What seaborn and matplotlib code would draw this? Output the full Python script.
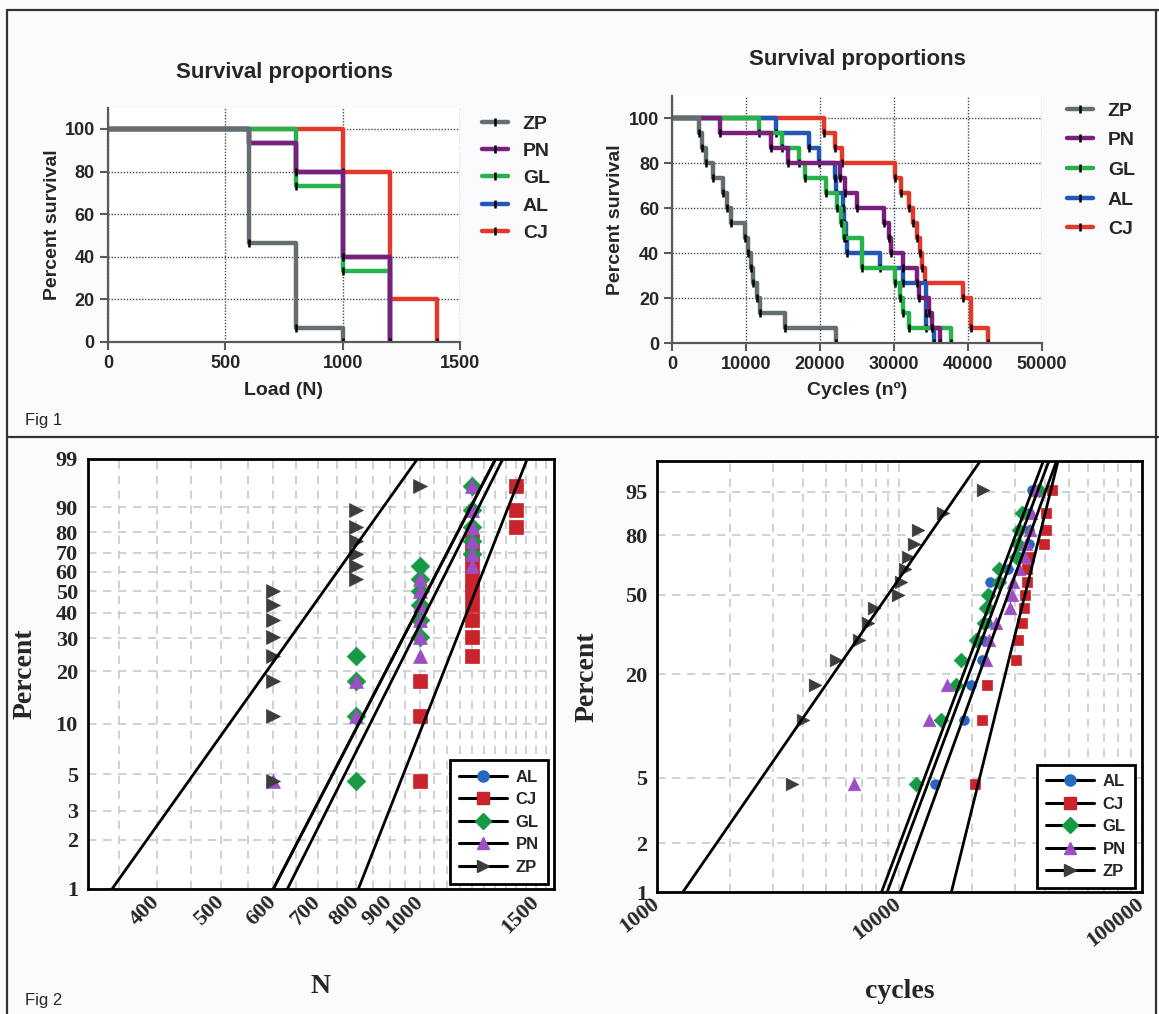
import numpy as np
import pandas as pd
import matplotlib
matplotlib.use("Agg")
import matplotlib.pyplot as plt
import seaborn as sns
from matplotlib.lines import Line2D
from matplotlib.ticker import FixedLocator, NullLocator, NullFormatter

# ---------------- data (n = 15 per group) ----------------
km_groups = ["ZP", "PN", "GL", "AL", "CJ"]          # legend order, Fig 1
wb_groups = ["AL", "CJ", "GL", "PN", "ZP"]          # legend order, Fig 2

# Fig 1 left: number of failures at each load step
load_levels = [600, 800, 1000, 1200, 1400]
fail_zp = [8, 6, 1, 0, 0]
fail_pn = [1, 2, 6, 6, 0]
fail_gl = [0, 4, 6, 5, 0]
fail_al = [1, 2, 6, 6, 0]
fail_cj = [0, 0, 3, 9, 3]

# Fig 1 right: cycles to failure
cycles_zp = [3600, 4000, 4500, 5500, 6800, 7400, 7900, 9900, 10200, 10600,
             10900, 11500, 11900, 15200, 22100]
cycles_pn = [6500, 13300, 15700, 22700, 23400, 25000, 28600, 29300, 29600,
             31300, 33100, 33400, 34700, 35100, 36300]
cycles_gl = [11700, 14900, 17100, 18000, 20800, 22300, 22800, 23200, 25700,
             25700, 30200, 30800, 31200, 32000, 37800]
cycles_al = [14000, 18500, 19800, 22000, 22100, 23100, 23300, 23500, 23700,
             28100, 31300, 34300, 34300, 34400, 35400]
cycles_cj = [20500, 22000, 23000, 30200, 31000, 32000, 32600, 33100, 33600,
             33800, 34200, 39400, 40500, 40500, 42800]

# Fig 2: Weibull fit lines (shape, scale), order as wb_groups
wb_load_shape = [7.9, 10.4, 8.15, 7.9, 5.75]
wb_load_scale = [1074, 1256, 1108, 1074, 761]
wb_cyc_shape = [3.99, 6.05, 3.99, 4.13, 2.17]
wb_cyc_scale = [28220, 35080, 26760, 30730, 10650]

load_ticks = [400, 500, 600, 700, 800, 900, 1000, 1500]
load_pct_ticks = [1, 2, 3, 5, 10, 20, 30, 40, 50, 60, 70, 80, 90, 99]
cyc_ticks = [1000, 10000, 100000]
cyc_pct_ticks = [1, 2, 5, 20, 50, 80, 95]

# ---------------- style ----------------
km_colors = {"ZP": "#646d70", "PN": "#7b1f7d", "GL": "#27b24a",
             "AL": "#2257b5", "CJ": "#e2392a"}
wb_colors = {"AL": "#2468c2", "CJ": "#c9232b", "GL": "#179a45",
             "PN": "#9d4ec4", "ZP": "#3d3d3d"}
wb_markers = {"AL": "o", "CJ": "s", "GL": "D", "PN": "^", "ZP": ">"}

sns.set_style("ticks")
plt.rcParams["font.family"] = ["Liberation Sans", "DejaVu Sans"]
SERIF = ["Liberation Serif", "DejaVu Serif"]

W, H = 1159, 1014
fig = plt.figure(figsize=(W / 100, H / 100), dpi=100, facecolor="#fbfbfd")


def rect(l, t, r, b):
    return [l / W, 1 - b / H, (r - l) / W, (b - t) / H]


def km_steps(events):
    t, d = np.unique(np.asarray(events, dtype=float), return_counts=True)
    surv = 100 * (1 - np.cumsum(d) / len(events))
    return pd.DataFrame({"t": np.r_[0, t], "s": np.r_[100, surv]})


def median_ranks(values):
    v = np.sort(np.asarray(values, dtype=float))
    i = np.arange(1, len(v) + 1)
    return v, 100 * (i - 0.3) / (len(v) + 0.4)


def weib_fwd(p):
    p = np.clip(np.asarray(p, dtype=float), 1e-9, 100 - 1e-9)
    return np.log(-np.log(1 - p / 100))


def weib_inv(w):
    return 100 * (1 - np.exp(-np.exp(np.asarray(w, dtype=float))))


loads = {g: np.repeat(load_levels, f) for g, f in
         zip(["ZP", "PN", "GL", "AL", "CJ"], [fail_zp, fail_pn, fail_gl, fail_al, fail_cj])}
cycles = {"ZP": cycles_zp, "PN": cycles_pn, "GL": cycles_gl,
          "AL": cycles_al, "CJ": cycles_cj}


def survival_panel(ax, series, xmax, xticks, xlabel, xlab_y, ylab_x, title_y,
                   leg_xy, leg_space):
    for g in ["CJ", "AL", "GL", "PN", "ZP"]:
        df = km_steps(series[g])
        sns.lineplot(data=df, x="t", y="s", ax=ax, color=km_colors[g], lw=3.2,
                     drawstyle="steps-post", sort=False, estimator=None,
                     marker="|", ms=6, mec="k", mew=1.8,
                     markevery=list(range(1, len(df))))
    ax.set_xlim(0, xmax)
    ax.set_ylim(0, 110)
    ax.set_xticks(xticks)
    ax.set_yticks([0, 20, 40, 60, 80, 100])
    ax.grid(True, ls=(0, (1, 1.2)), color="#3d4b5c", lw=1.0)
    sns.despine(ax=ax)
    for s in ["left", "bottom"]:
        ax.spines[s].set_color("#5a5a5a")
        ax.spines[s].set_linewidth(1.6)
    ax.tick_params(length=6, width=1.5, color="#5a5a5a", labelsize=13)
    for lab in ax.get_xticklabels() + ax.get_yticklabels():
        lab.set_fontweight("bold")
    ax.set_xlabel(xlabel, fontsize=14, fontweight="bold", va="center")
    ax.xaxis.set_label_coords(0.5, xlab_y)
    ax.set_ylabel("Percent survival", fontsize=14, fontweight="bold", va="center")
    ax.yaxis.set_label_coords(ylab_x, 0.5)
    ax.text(0.5, title_y, "Survival proportions", transform=ax.transAxes,
            ha="center", va="center", fontsize=16, fontweight="bold")
    handles = [Line2D([0], [0], color=km_colors[g], lw=3.2, marker="|", ms=6,
                      mec="k", mew=1.8) for g in km_groups]
    fig.legend(handles, km_groups, loc="upper left",
               bbox_to_anchor=(leg_xy[0] / W, 1 - leg_xy[1] / H),
               frameon=False, prop={"weight": "bold", "size": 14},
               handlelength=1.35, handletextpad=0.75, labelspacing=leg_space,
               borderpad=0, borderaxespad=0)


def weibull_panel(ax, series, shapes, scales, xlim, xticks, yticks, grid_x,
                  rot, msizes, xlabel, xlab_y, ylab_x, leg_anchor):
    ax.set_xscale("log")
    ax.set_yscale("function", functions=(weib_fwd, weib_inv))
    for g in wb_groups:
        x, p = median_ranks(series[g])
        sns.scatterplot(x=x, y=p, ax=ax, marker=wb_markers[g], color=wb_colors[g],
                        s=msizes[g] ** 2, edgecolor=wb_colors[g], linewidth=0.5,
                        zorder=3)
    xx = np.geomspace(xlim[0] * 0.7, xlim[1] * 1.3, 400)
    for g, b, e in zip(wb_groups, shapes, scales):
        pp = 100 * (1 - np.exp(-(xx / e) ** b))
        sns.lineplot(x=xx, y=pp, ax=ax, color="k", lw=2.0, sort=False,
                     estimator=None, zorder=4)
    ax.set_xlim(*xlim)
    ax.set_ylim(1, 99)
    ax.set_xticks(xticks)
    ax.set_xticklabels([str(t) for t in xticks])
    ax.xaxis.set_minor_locator(FixedLocator(grid_x))
    ax.xaxis.set_minor_formatter(NullFormatter())
    ax.set_yticks(yticks)
    ax.set_yticklabels([str(t) for t in yticks])
    ax.yaxis.set_minor_locator(NullLocator())
    gkw = dict(ls=(0, (5, 4)), color="#c6c9cf", lw=1.2)
    ax.grid(True, which="both", axis="x", **gkw)
    ax.grid(True, which="major", axis="y", **gkw)
    ax.set_axisbelow(True)
    for sp in ax.spines.values():
        sp.set_color("k")
        sp.set_linewidth(2)
    ax.tick_params(which="both", length=0, labelsize=16, pad=7)
    for lab in ax.get_xticklabels() + ax.get_yticklabels():
        lab.set_fontfamily(SERIF)
        lab.set_fontweight("bold")
    plt.setp(ax.get_xticklabels(), rotation=rot, ha="right", va="center",
             rotation_mode="anchor")
    ax.set_xlabel(xlabel, fontsize=20, fontweight="bold", family=SERIF, va="center")
    ax.xaxis.set_label_coords(0.5, xlab_y)
    ax.set_ylabel("Percent", fontsize=20, fontweight="bold", family=SERIF, va="center")
    ax.yaxis.set_label_coords(ylab_x, 0.5)
    handles = [Line2D([0], [0], color="k", lw=2.2, marker=wb_markers[g],
                      mfc=wb_colors[g], mec=wb_colors[g], ms=8) for g in wb_groups]
    leg = ax.legend(handles, wb_groups, loc="lower right", bbox_to_anchor=leg_anchor,
                    borderaxespad=0, fancybox=False, framealpha=1,
                    prop={"weight": "bold", "size": 12}, handlelength=2.9,
                    handletextpad=0.5, labelspacing=0.45, borderpad=0.55)
    leg.get_frame().set_edgecolor("k")
    leg.get_frame().set_linewidth(2)


# ---------------- Fig 1 ----------------
ax1 = fig.add_axes(rect(108, 107.6, 460, 342))
survival_panel(ax1, loads, 1500, [0, 500, 1000, 1500], "Load (N)",
               -0.205, -0.159, 1.148, (482, 115), 0.5)

ax2 = fig.add_axes(rect(672.3, 95.8, 1041.6, 343.3))
survival_panel(ax2, cycles, 50000, [0, 10000, 20000, 30000, 40000, 50000],
               "Cycles (n\u00ba)", -0.189, -0.155, 1.145, (1067, 102), 0.62)

# ---------------- Fig 2 ----------------
ax3 = fig.add_axes(rect(87.7, 458.5, 553.8, 888.8))
weibull_panel(ax3, loads, wb_load_shape, wb_load_scale, (314, 1595), load_ticks,
              load_pct_ticks, np.arange(350, 1600, 50), 45,
              {"AL": 4, "CJ": 9.5, "GL": 9.5, "PN": 10, "ZP": 10}, "N",
              -0.226, -0.1345, (1 - 6 / 466, 5 / 430))

ax4 = fig.add_axes(rect(657, 461.5, 1141.6, 892.1))
grid_c = [m * 10 ** k for k in (3, 4) for m in range(2, 10)]
weibull_panel(ax4, cycles, wb_cyc_shape, wb_cyc_scale, (1000, 100000), cyc_ticks,
              cyc_pct_ticks, grid_c, 38,
              {"AL": 7, "CJ": 6.5, "GL": 7.5, "PN": 9, "ZP": 9}, "cycles",
              -0.23, -0.1445, (1 - 6.6 / 484.6, 3.7 / 430.6))

# ---------------- frame and panel labels ----------------
fr = dict(transform=fig.transFigure, color="#333333", lw=1.6)
fig.add_artist(Line2D([7 / W, 7 / W], [0, 1 - 10 / H], **fr))
fig.add_artist(Line2D([7 / W, 1], [1 - 10 / H, 1 - 10 / H], **fr))
fig.add_artist(Line2D([1156 / W, 1156 / W], [0, 1 - 10 / H], **fr))
fig.add_artist(Line2D([7 / W, 1], [1 - 437 / H, 1 - 437 / H], **fr))
fig.text(25 / W, 1 - 420 / H, "Fig 1", fontsize=12, va="center")
fig.text(25 / W, 1 - 1000 / H, "Fig 2", fontsize=12, va="center")

fig.savefig("out.png", dpi=100, facecolor=fig.get_facecolor())
